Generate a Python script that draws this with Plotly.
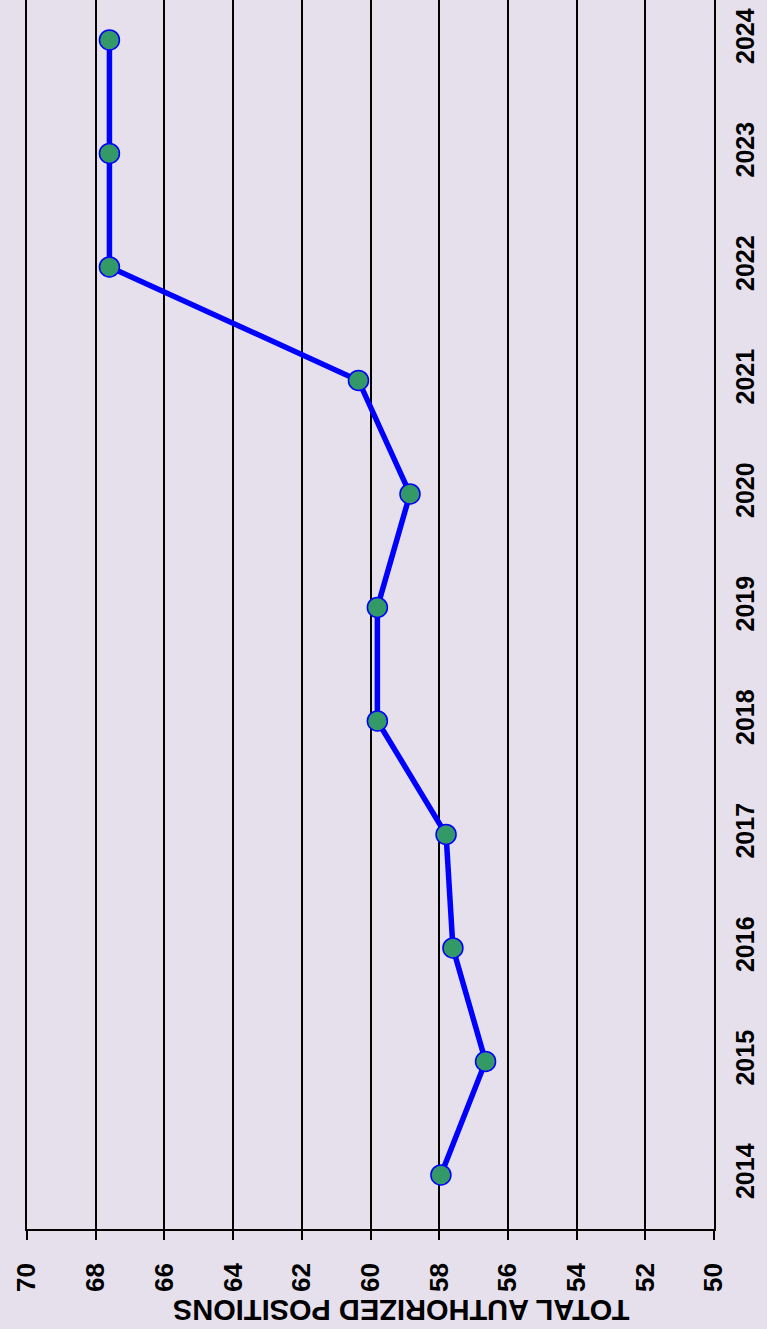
import plotly.graph_objects as go

years = [2014, 2015, 2016, 2017, 2018, 2019, 2020, 2021, 2022, 2023, 2024]
positions = [57.95, 56.65, 57.6, 57.8, 59.8, 59.8, 58.85, 60.35, 67.6, 67.6, 67.6]
value_ticks = [70, 68, 66, 64, 62, 60, 58, 56, 54, 52, 50]
axis_title = "TOTAL AUTHORIZED POSITIONS"

BG = "#E6E0EC"
FONT = "Liberation Sans"

fig = go.Figure()
fig.add_trace(go.Scatter(
    x=positions, y=years, mode="lines+markers",
    line=dict(color="#0000FF", width=5.5),
    marker=dict(size=20, color="#339966", line=dict(color="#0000FF", width=1.5)),
    showlegend=False, cliponaxis=False,
))

fig.update_layout(
    width=767, height=1329,
    margin=dict(l=27, r=53, t=0, b=100, autoexpand=False),
    paper_bgcolor=BG, plot_bgcolor=BG,
    xaxis=dict(
        range=[70, 50], tickvals=value_ticks, ticktext=[str(v) for v in value_ticks],
        showgrid=True, gridcolor="black", gridwidth=1.5,
        showline=True, linecolor="black", linewidth=1.5,
        ticks="outside", ticklen=9, tickwidth=1.5, tickcolor="black",
        tickangle=-90, ticklabelstandoff=13, automargin=False,
        tickfont=dict(family=FONT, size=26, color="black", weight="bold"),
        zeroline=False,
    ),
    yaxis=dict(
        range=[2013.524, 2024.352], tickvals=years, ticktext=[str(y) for y in years],
        side="right", showgrid=False, zeroline=False,
        showline=True, mirror=True, linecolor="black", linewidth=1.5,
        ticks="", tickangle=-90, ticklabelstandoff=8, automargin=False,
        tickfont=dict(family=FONT, size=25, color="black", weight="bold"),
    ),
    annotations=[dict(
        text=axis_title, xref="paper", yref="paper",
        x=0.544, y=-0.0665, xanchor="center", yanchor="middle",
        textangle=180, showarrow=False,
        font=dict(family=FONT, size=29, color="black", weight="bold"),
    )],
)

fig.write_html(
    "out.html",
    config={"displayModeBar": False},
    post_script="document.body.style.margin='0';document.body.style.overflow='hidden';",
)
